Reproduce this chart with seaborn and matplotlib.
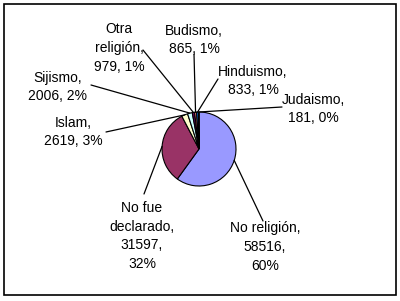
import matplotlib
matplotlib.use("Agg")
import matplotlib.pyplot as plt
import seaborn as sns
import numpy as np
from matplotlib.patches import Rectangle

categories = ["No religión", "No fue declarado", "Islam", "Sijismo",
              "Otra religión", "Budismo", "Hinduismo", "Judaismo"]
values = [58516, 31597, 2619, 2006, 979, 865, 833, 181]
percents = ["60%", "32%", "3%", "2%", "1%", "1%", "1%", "0%"]
colors = ["#9999FF", "#993366", "#FFFFCC", "#CCFFFF",
          "#660066", "#FF8080", "#0066CC", "#CCCCFF"]

label_texts = ["No religión,\n58516,\n60%", "No fue\ndeclarado,\n31597,\n32%",
               "Islam,\n2619, 3%", "Sijismo,\n2006, 2%",
               "Otra\nreligión,\n979, 1%", "Budismo,\n865, 1%",
               "Hinduismo,\n833, 1%", "Judaismo,\n181, 0%"]
# label text centre (pixels, from top-left) and leader-line start
label_pos = [(265, 247), (142, 236), (73, 132), (58, 87),
             (119, 48), (194, 40), (253, 81), (313, 109)]
line_start = [(263, 221), (144, 194), (106, 132), (91, 85),
              (143, 50), (194, 54), (218, 79), (282, 107)]

sns.set_theme(style="white")
plt.rcParams["font.family"] = ["Liberation Sans", "DejaVu Sans"]

W, H = 400, 301
fig = plt.figure(figsize=(4.0, 3.01), dpi=100)
ax = fig.add_axes([0, 0, 1, 1])
ax.set_xlim(0, W)
ax.set_ylim(0, H)
ax.set_aspect("equal")
ax.axis("off")

cx, cy, r = 199, H - 149, 37
wedges, _ = ax.pie(values, colors=colors, startangle=90, counterclock=False,
                   center=(cx, cy), radius=r,
                   wedgeprops=dict(edgecolor="black", linewidth=0.8), frame=True)
ax.set_xlim(0, W)
ax.set_ylim(0, H)
ax.axis("off")

for w, txt, (lx, ly), (sx, sy) in zip(wedges, label_texts, label_pos, line_start):
    ang = np.deg2rad((w.theta1 + w.theta2) / 2)
    ex, ey = cx + r * np.cos(ang), cy + r * np.sin(ang)
    ax.plot([sx, ex], [H - sy, ey], color="black", lw=0.9, zorder=5)
    ax.text(lx, H - ly, txt, ha="center", va="center", fontsize=10,
            linespacing=1.45, color="black")

fig.patches.append(Rectangle((4 / W, 1 - 295 / H), 392 / W, 291 / H,
                             transform=fig.transFigure, fill=False,
                             edgecolor="black", linewidth=1.2))
fig.savefig("out.png", dpi=100, facecolor="white")
